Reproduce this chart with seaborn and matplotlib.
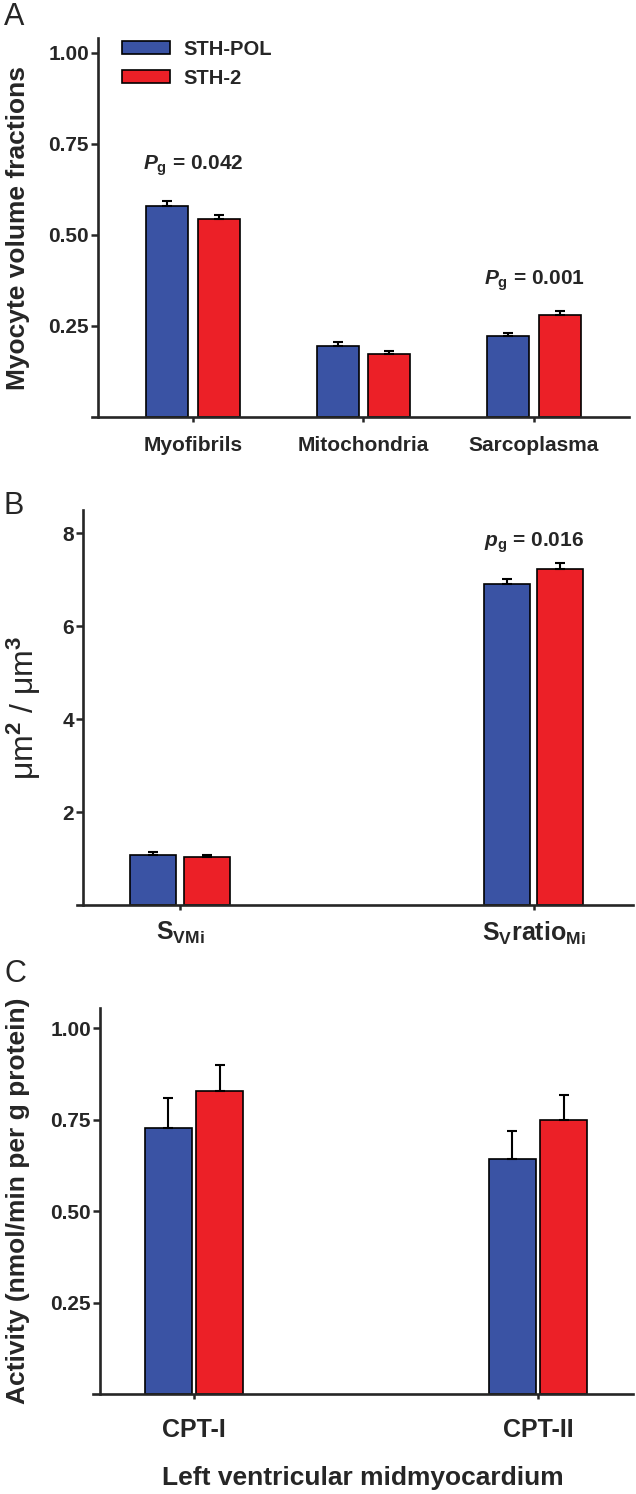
import numpy as np
import pandas as pd
import matplotlib
matplotlib.use("Agg")
import matplotlib.pyplot as plt
import seaborn as sns

sns.set_style("ticks")
plt.rcParams['font.family'] = ['Liberation Sans', 'DejaVu Sans']
plt.rcParams['font.weight'] = 'bold'
plt.rcParams['mathtext.fontset'] = 'custom'
plt.rcParams['mathtext.rm'] = 'Liberation Sans'
plt.rcParams['mathtext.it'] = 'Liberation Sans:italic:bold'
plt.rcParams['mathtext.bf'] = 'Liberation Sans:bold'

groups = ["STH-POL", "STH-2"]
colors = ["#3A53A4", "#EC2027"]

# panel A - myocyte volume fractions
a_cats = ["Myofibrils", "Mitochondria", "Sarcoplasma"]
a_pol = [0.580, 0.195, 0.222]
a_pol_err = [0.012, 0.011, 0.009]
a_sth2 = [0.543, 0.174, 0.281]
a_sth2_err = [0.011, 0.008, 0.010]

# panel B - surface densities
b_cats = [r"$\mathbf{S}_{\mathbf{VMi}}$", r"$\mathbf{S}_{\mathbf{V}}\mathbf{ratio}_{\mathbf{Mi}}$"]
b_pol = [1.08, 6.90]
b_pol_err = [0.05, 0.11]
b_sth2 = [1.03, 7.24]
b_sth2_err = [0.04, 0.12]

# panel C - CPT activity
c_cats = ["CPT-I", "CPT-II"]
c_pol = [0.727, 0.642]
c_pol_err = [0.083, 0.077]
c_sth2 = [0.829, 0.749]
c_sth2_err = [0.070, 0.068]

W, H = 636, 1494


def rect(x0, x1, ytop, ybot):
    return [x0 / W, (H - ybot) / H, (x1 - x0) / W, (ybot - ytop) / H]


def panel(ax, cats, pol, sth2, pol_err, sth2_err, width, gap):
    df = pd.DataFrame({"cat": cats * 2,
                       "grp": [groups[0]] * len(cats) + [groups[1]] * len(cats),
                       "val": pol + sth2})
    sns.barplot(data=df, x="cat", y="val", hue="grp", order=cats, hue_order=groups,
                palette=colors, width=width, gap=gap, errorbar=None, edgecolor="black",
                linewidth=1.2, saturation=1, legend=False, ax=ax)
    bars = list(ax.containers)
    for cont, err in zip(bars, [pol_err, sth2_err]):
        xs = [p.get_x() + p.get_width() / 2 for p in cont]
        ys = [p.get_height() for p in cont]
        ax.errorbar(xs, ys, yerr=[np.zeros(len(err)), err], fmt="none", ecolor="black",
                    elinewidth=1.5, capsize=3.5, capthick=1.5, zorder=3)
    ax.spines['top'].set_visible(False)
    ax.spines['right'].set_visible(False)
    for s in ['left', 'bottom']:
        ax.spines[s].set_linewidth(1.9)
    ax.tick_params(axis='y', length=5, width=1.8, pad=1.5, labelsize=15)
    ax.tick_params(axis='x', length=3.5, width=1.8)
    ax.set_xlabel("")
    ax.set_ylabel("")
    return bars


fig = plt.figure(figsize=(6.36, 14.94), dpi=100)

# A
axA = fig.add_axes(rect(92, 629, 38, 417))
barsA = panel(axA, a_cats, a_pol, a_sth2, a_pol_err, a_sth2_err, 0.6, 0.18)
axA.set_xlim(-0.592, 2.557)
axA.set_ylim(0, 1.04)
axA.set_yticks([0.25, 0.5, 0.75, 1.0])
axA.set_yticklabels(["0.25", "0.50", "0.75", "1.00"])
axA.spines['left'].set_position(('axes', 6 / 537))
axA.tick_params(axis='x', labelsize=15, pad=10)
axA.set_ylabel("Myocyte volume fractions", fontsize=19, fontweight='bold')
axA.yaxis.set_label_coords(-0.115, 0.5)
handles = [c.patches[0] for c in barsA]
axA.legend(handles, groups, loc='upper left', bbox_to_anchor=(0.037, 1.022), frameon=False,
           borderpad=0, handlelength=2.4, handleheight=0.62, labelspacing=0.5,
           handletextpad=0.67, prop={'size': 14.5, 'weight': 'bold'})
axA.text(0, 0.69, r"$\mathit{P}_{\mathbf{g}}$ = 0.042", ha='center', va='center',
         fontsize=15, fontweight='bold')
axA.text(2, 0.375, r"$\mathit{P}_{\mathbf{g}}$ = 0.001", ha='center', va='center',
         fontsize=15, fontweight='bold')

# B
axB = fig.add_axes(rect(77, 633, 510, 905))
panel(axB, b_cats, b_pol, b_sth2, b_pol_err, b_sth2_err, 0.3, 0.133)
axB.set_xlim(-0.291, 1.280)
axB.set_ylim(0, 8.5)
axB.set_yticks([2, 4, 6, 8])
axB.spines['left'].set_position(('axes', 6 / 556))
axB.tick_params(axis='x', labelsize=18, pad=7)
axB.set_ylabel(r"μm$^{2}$ / μm$^{3}$", fontsize=23, fontweight='normal')
axB.yaxis.set_label_coords(-0.061, 0.5)
axB.text(1, 7.8, r"$\mathit{p}_{\mathbf{g}}$ = 0.016", ha='center', va='center',
         fontsize=15, fontweight='bold')

# C
axC = fig.add_axes(rect(93, 633, 1008, 1394))
panel(axC, c_cats, c_pol, c_sth2, c_pol_err, c_sth2_err, 0.3, 0.09)
axC.set_xlim(-0.294, 1.276)
axC.set_ylim(0, 1.055)
axC.set_yticks([0.25, 0.5, 0.75, 1.0])
axC.set_yticklabels(["0.25", "0.50", "0.75", "1.00"])
axC.spines['left'].set_position(('axes', 7 / 540))
axC.tick_params(axis='x', labelsize=18, pad=14)
axC.set_ylabel("Activity (nmol/min per g protein)", fontsize=19, fontweight='bold')
axC.yaxis.set_label_coords(-0.117, 0.5)
fig.text(363 / W, 1 - 1478 / H, "Left ventricular midmyocardium", ha='center', va='center',
         fontsize=19, fontweight='bold')

# panel letters
for letter, y in [("A", 17), ("B", 506), ("C", 974)]:
    fig.text(4 / W, 1 - y / H, letter, ha='left', va='center', fontsize=22, fontweight='normal')

fig.savefig("out.png", dpi=100)
